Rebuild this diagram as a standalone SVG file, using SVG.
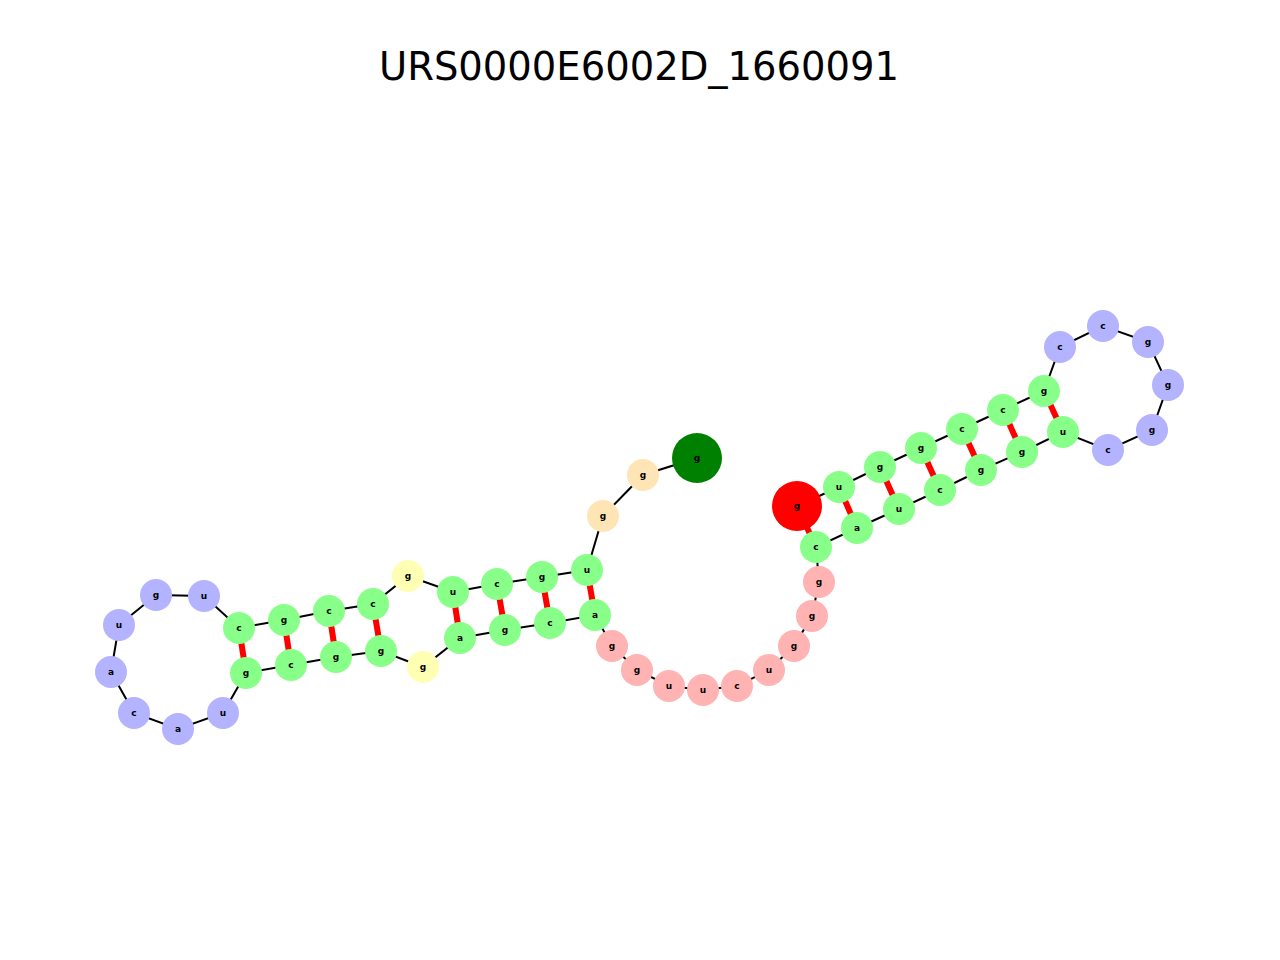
<svg xmlns="http://www.w3.org/2000/svg" width="1280" height="960" viewBox="0 0 1280 960">
<style>
.b{stroke:#000;stroke-width:2;fill:none}
.p{stroke:#f00;stroke-width:6;fill:none}
circle{stroke:none}
.G{fill:#88ff88}.B{fill:#b3b3ff}.P{fill:#ffb3b3}.Y{fill:#ffffb3}.O{fill:#ffe4b5}
text{font-family:"DejaVu Sans",sans-serif;font-size:9px;font-weight:bold;text-anchor:middle;dominant-baseline:central}
.t{font-size:38.5px;font-weight:normal}
</style>
<rect width="1280" height="960" fill="#fff"/>
<text class="t" x="639" y="66">URS0000E6002D_1660091</text>
<g id="connectors">
<polyline class="b" points="697,458 643,475 603,516 587,570 542,577 497,584 453,592 408,576 373,604 329,611 284,620 239,628 204,596 156,595 119,625 111,672 134,713 178,729 223,713 246,673 291,665 336,657 381,651 423,667 460,638 505,630 550,623 595,615 612,646 637,670 669,686 703,690 737,686 769,670 794,646 812,616 819,582 816,547 857,528 899,509 940,490 981,470 1022,452 1063,432 1108,450 1152,430 1168,385 1148,342 1103,326 1060,347 1044,391 1003,410 962,429 921,448 880,467 839,487 797,506"/>
<path class="p" d="M587,570L595,615M542,577L550,623M497,584L505,630M453,592L460,638M373,604L381,651M329,611L336,657M284,620L291,665M239,628L246,673M839,487L857,528M880,467L899,509M921,448L940,490M962,429L981,470M1003,410L1022,452M1044,391L1063,432M797,506L816,547"/>
</g>
<g id="n1"><circle cx="697" cy="458" r="25" fill="#008000"/><text x="697" y="458">g</text></g>
<g id="n2"><circle class="O" cx="643" cy="475" r="16"/><text x="643" y="475">g</text></g>
<g id="n3"><circle class="O" cx="603" cy="516" r="16"/><text x="603" y="516">g</text></g>
<g id="n4"><circle class="G" cx="587" cy="570" r="16"/><text x="587" y="570">u</text></g>
<g id="n5"><circle class="G" cx="542" cy="577" r="16"/><text x="542" y="577">g</text></g>
<g id="n6"><circle class="G" cx="497" cy="584" r="16"/><text x="497" y="584">c</text></g>
<g id="n7"><circle class="G" cx="453" cy="592" r="16"/><text x="453" y="592">u</text></g>
<g id="n8"><circle class="Y" cx="408" cy="576" r="16"/><text x="408" y="576">g</text></g>
<g id="n9"><circle class="G" cx="373" cy="604" r="16"/><text x="373" y="604">c</text></g>
<g id="n10"><circle class="G" cx="329" cy="611" r="16"/><text x="329" y="611">c</text></g>
<g id="n11"><circle class="G" cx="284" cy="620" r="16"/><text x="284" y="620">g</text></g>
<g id="n12"><circle class="G" cx="239" cy="628" r="16"/><text x="239" y="628">c</text></g>
<g id="n13"><circle class="B" cx="204" cy="596" r="16"/><text x="204" y="596">u</text></g>
<g id="n14"><circle class="B" cx="156" cy="595" r="16"/><text x="156" y="595">g</text></g>
<g id="n15"><circle class="B" cx="119" cy="625" r="16"/><text x="119" y="625">u</text></g>
<g id="n16"><circle class="B" cx="111" cy="672" r="16"/><text x="111" y="672">a</text></g>
<g id="n17"><circle class="B" cx="134" cy="713" r="16"/><text x="134" y="713">c</text></g>
<g id="n18"><circle class="B" cx="178" cy="729" r="16"/><text x="178" y="729">a</text></g>
<g id="n19"><circle class="B" cx="223" cy="713" r="16"/><text x="223" y="713">u</text></g>
<g id="n20"><circle class="G" cx="246" cy="673" r="16"/><text x="246" y="673">g</text></g>
<g id="n21"><circle class="G" cx="291" cy="665" r="16"/><text x="291" y="665">c</text></g>
<g id="n22"><circle class="G" cx="336" cy="657" r="16"/><text x="336" y="657">g</text></g>
<g id="n23"><circle class="G" cx="381" cy="651" r="16"/><text x="381" y="651">g</text></g>
<g id="n24"><circle class="Y" cx="423" cy="667" r="16"/><text x="423" y="667">g</text></g>
<g id="n25"><circle class="G" cx="460" cy="638" r="16"/><text x="460" y="638">a</text></g>
<g id="n26"><circle class="G" cx="505" cy="630" r="16"/><text x="505" y="630">g</text></g>
<g id="n27"><circle class="G" cx="550" cy="623" r="16"/><text x="550" y="623">c</text></g>
<g id="n28"><circle class="G" cx="595" cy="615" r="16"/><text x="595" y="615">a</text></g>
<g id="n29"><circle class="P" cx="612" cy="646" r="16"/><text x="612" y="646">g</text></g>
<g id="n30"><circle class="P" cx="637" cy="670" r="16"/><text x="637" y="670">g</text></g>
<g id="n31"><circle class="P" cx="669" cy="686" r="16"/><text x="669" y="686">u</text></g>
<g id="n32"><circle class="P" cx="703" cy="690" r="16"/><text x="703" y="690">u</text></g>
<g id="n33"><circle class="P" cx="737" cy="686" r="16"/><text x="737" y="686">c</text></g>
<g id="n34"><circle class="P" cx="769" cy="670" r="16"/><text x="769" y="670">u</text></g>
<g id="n35"><circle class="P" cx="794" cy="646" r="16"/><text x="794" y="646">g</text></g>
<g id="n36"><circle class="P" cx="812" cy="616" r="16"/><text x="812" y="616">g</text></g>
<g id="n37"><circle class="P" cx="819" cy="582" r="16"/><text x="819" y="582">g</text></g>
<g id="n38"><circle class="G" cx="816" cy="547" r="16"/><text x="816" y="547">c</text></g>
<g id="n39"><circle class="G" cx="857" cy="528" r="16"/><text x="857" y="528">a</text></g>
<g id="n40"><circle class="G" cx="899" cy="509" r="16"/><text x="899" y="509">u</text></g>
<g id="n41"><circle class="G" cx="940" cy="490" r="16"/><text x="940" y="490">c</text></g>
<g id="n42"><circle class="G" cx="981" cy="470" r="16"/><text x="981" y="470">g</text></g>
<g id="n43"><circle class="G" cx="1022" cy="452" r="16"/><text x="1022" y="452">g</text></g>
<g id="n44"><circle class="G" cx="1063" cy="432" r="16"/><text x="1063" y="432">u</text></g>
<g id="n45"><circle class="B" cx="1108" cy="450" r="16"/><text x="1108" y="450">c</text></g>
<g id="n46"><circle class="B" cx="1152" cy="430" r="16"/><text x="1152" y="430">g</text></g>
<g id="n47"><circle class="B" cx="1168" cy="385" r="16"/><text x="1168" y="385">g</text></g>
<g id="n48"><circle class="B" cx="1148" cy="342" r="16"/><text x="1148" y="342">g</text></g>
<g id="n49"><circle class="B" cx="1103" cy="326" r="16"/><text x="1103" y="326">c</text></g>
<g id="n50"><circle class="B" cx="1060" cy="347" r="16"/><text x="1060" y="347">c</text></g>
<g id="n51"><circle class="G" cx="1044" cy="391" r="16"/><text x="1044" y="391">g</text></g>
<g id="n52"><circle class="G" cx="1003" cy="410" r="16"/><text x="1003" y="410">c</text></g>
<g id="n53"><circle class="G" cx="962" cy="429" r="16"/><text x="962" y="429">c</text></g>
<g id="n54"><circle class="G" cx="921" cy="448" r="16"/><text x="921" y="448">g</text></g>
<g id="n55"><circle class="G" cx="880" cy="467" r="16"/><text x="880" y="467">g</text></g>
<g id="n56"><circle class="G" cx="839" cy="487" r="16"/><text x="839" y="487">u</text></g>
<g id="n57"><circle cx="797" cy="506" r="25" fill="#ff0000"/><text x="797" y="506">g</text></g>
</svg>
